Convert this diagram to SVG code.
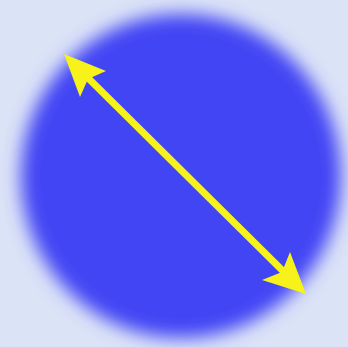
<svg xmlns="http://www.w3.org/2000/svg" width="348" height="347" viewBox="0 0 348 347">
<defs>
<filter id="blur" x="-20%" y="-20%" width="140%" height="140%"><feGaussianBlur stdDeviation="9"/></filter>
<style>.arr{fill:#f6f21a}.shaft{stroke:#f6f21a;stroke-width:7;fill:none}</style>
</defs>
<rect width="348" height="347" fill="#dbe3f7"/>
<g id="disc"><ellipse cx="181" cy="176" rx="160" ry="162" fill="#4245f4" filter="url(#blur)"/></g>
<g id="connectors">
<line class="shaft" x1="84" y1="74" x2="286" y2="274"/>
<polygon class="arr" points="64,54 106,71 88,79 80,97"/>
<polygon class="arr" points="306,294 262,280 282,272 290,252"/>
</g>
</svg>
